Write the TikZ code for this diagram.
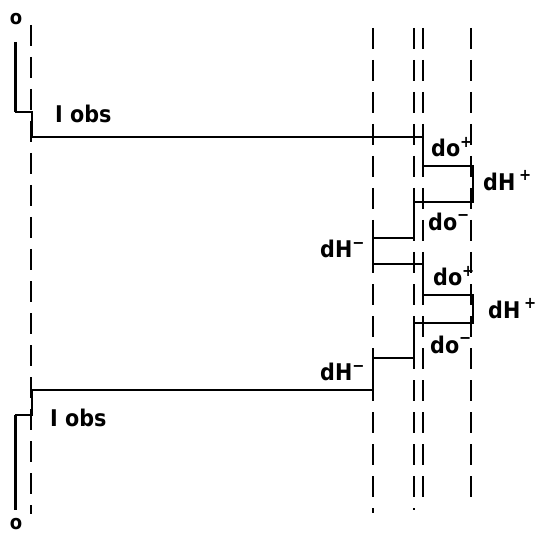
\documentclass[tikz,border=0pt]{standalone}
\usepackage{fontspec}
\setmainfont{DejaVu Sans Condensed}
\begin{document}
\begin{tikzpicture}[x=1pt,y=-1pt,
  trace/.style={line width=2.5pt,line join=miter},
  spine/.style={line width=3pt},
  guide/.style={line width=1.8pt,dash pattern=on 21pt off 11pt},
  lbl/.style={anchor=base west,inner sep=0pt,font=\bfseries\fontsize{23}{23}\selectfont},
  endmark/.style={inner sep=0pt,font=\bfseries\fontsize{20}{20}\selectfont}]
\useasboundingbox (0,0) rectangle (542,535);

% dashed guide lines
\draw[guide] (31,25) -- (31,514);
\draw[guide] (373,28) -- (373,513);
\draw[guide] (414,28) -- (414,510);
\draw[guide] (423,28) -- (423,507);
\draw[guide] (471,28) -- (471,504);

% end marks
\node[endmark] (top) at (16,19) {o};
\node[endmark] (bot) at (16,524) {o};

% main trace
\coordinate (s0) at (15,42);
\coordinate (s1) at (15,112);
\coordinate (s2) at (15,415);
\coordinate (s3) at (15,510);
\draw[spine] (s0) -- (s1);
\draw[trace] (s1) -- (32,112) -- (32,137) -- (423,137) -- (423,166)
  -- (473,166) -- (473,202) -- (414,202) -- (414,238) -- (373,238)
  -- (373,264) -- (423,264) -- (423,295) -- (473,295) -- (473,323)
  -- (414,323) -- (414,358) -- (373,358) -- (373,390) -- (32,390)
  -- (32,415) -- (s2);
\draw[spine] (s2) -- (s3);

% labels
\node[lbl] (obsA) at (55,123) {I obs};
\node[lbl] (obsB) at (50,426) {I obs};
\node[lbl] (doA) at (431,157) {do\textsuperscript{+}};
\node[lbl] (dhA) at (483,190) {dH\,\textsuperscript{+}};
\node[lbl] (doB) at (428,230) {do\textsuperscript{−}};
\node[lbl] (dhB) at (320,258) {dH\textsuperscript{−}};
\node[lbl] (doC) at (433,286) {do\textsuperscript{+}};
\node[lbl] (dhC) at (488,318) {dH\,\textsuperscript{+}};
\node[lbl] (doD) at (430,353) {do\textsuperscript{−}};
\node[lbl] (dhD) at (320,381) {dH\textsuperscript{−}};
\end{tikzpicture}
\end{document}
